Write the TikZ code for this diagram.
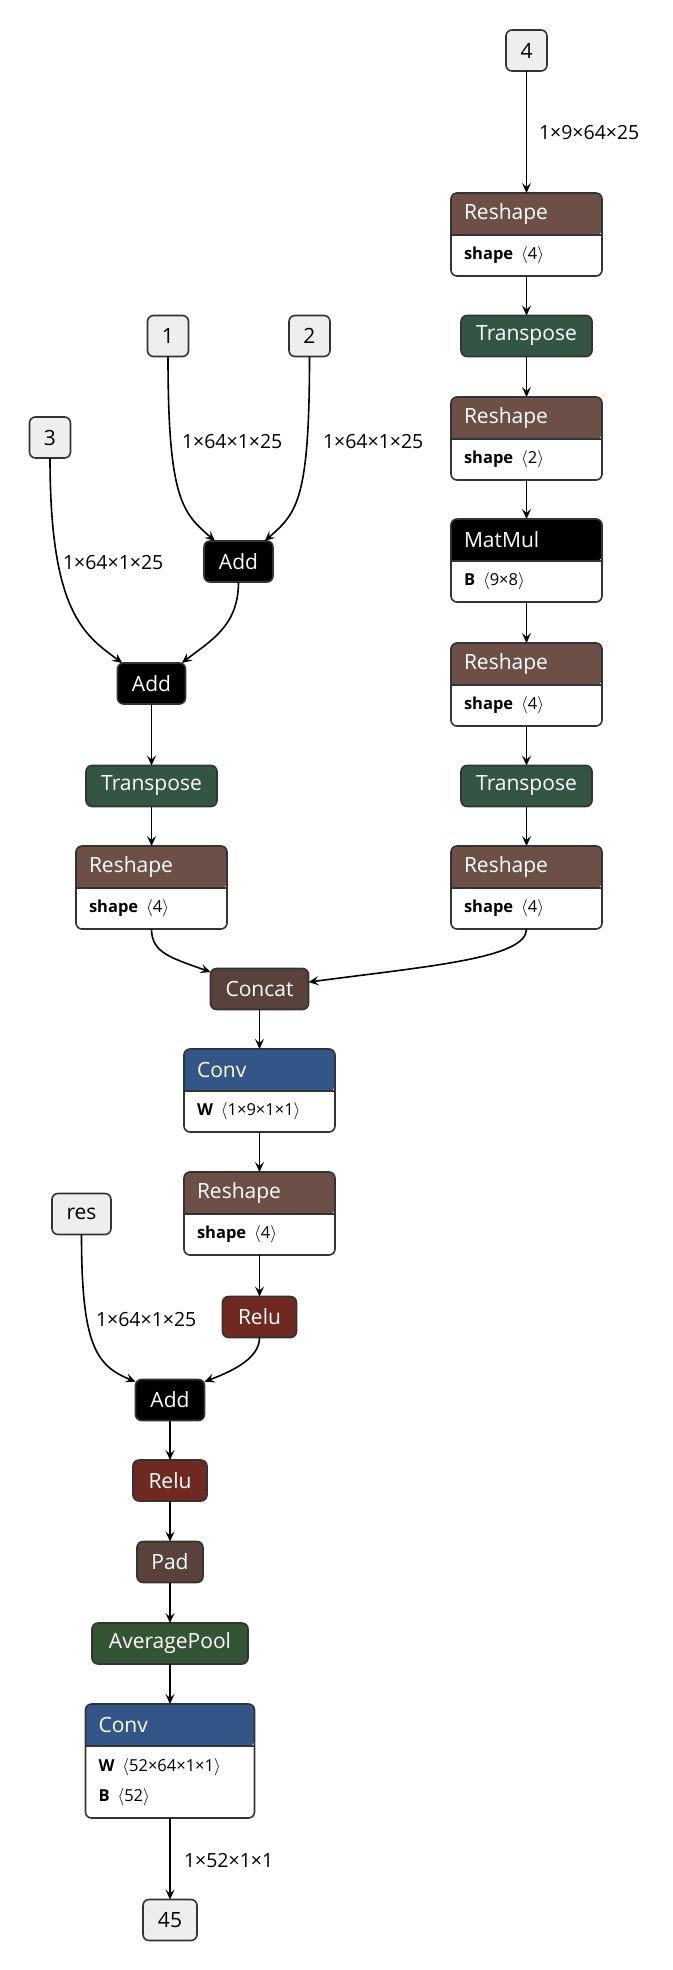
\documentclass[tikz,border=0pt]{standalone}
\usepackage{fontspec}
\setmainfont{Open Sans}
\usepackage{tikz}
\usetikzlibrary{arrows.meta,%
                positioning,backgrounds}

\definecolor{inputC}{RGB}{238,238,238}
\definecolor{rimC}{RGB}{51,51,51}
\definecolor{shapeC}{RGB}{108,79,71}
\definecolor{transformC}{RGB}{51,85,68}
\definecolor{tensorC}{RGB}{89,66,59}
\definecolor{layerC}{RGB}{51,85,136}
\definecolor{activationC}{RGB}{112,41,33}
\definecolor{poolC}{RGB}{51,85,51}

\newcommand{\attrv}[1]{\hspace{8pt}$\langle$#1$\rangle$}
\newcommand{\opframe}[3]{%
  \begin{pgfonlayer}{background}
    \fill[#3] (#1.south west) [rounded corners=6pt] -- (#1.north west) -- (#1.north east) -- (#1.south east) [sharp corners] -- cycle;
  \end{pgfonlayer}
  \draw[rim] (#1.south west) -- (#1.south east);
  \draw[rim, rounded corners=6pt] (#1.north west) rectangle (#2.south east);
}

\tikzset{
  every node/.style={outer sep=0pt},
  rim/.style={draw=rimC, line width=1.6pt},
  box/.style={rim, rounded corners=6pt, minimum height=41pt, inner xsep=4pt, font=\fontsize{21}{25}\selectfont},
  term/.style={box, fill=inputC, text=black, minimum width=#1},
  term/.default=41pt,
  op/.style={box, fill=#1, text=white},
  hdr/.style={anchor=north, minimum height=42pt, text width=#1, inner xsep=13pt, inner ysep=0pt, align=left, text=white, font=\fontsize{21}{25}\selectfont},
  attrbox/.style={minimum height=41pt, text width=#1, inner xsep=13pt, inner ysep=0pt, align=left, font=\fontsize{16.5}{30}\selectfont},
  link/.style={line width=1.6pt, -{Stealth[length=10pt, width=9pt, inset=4pt]}},
  lbl/.style={anchor=west, inner sep=0pt, font=\fontsize{19.5}{23}\selectfont},
}

\begin{document}
\begin{tikzpicture}[x=1pt,y=1pt]
\useasboundingbox (0,0) rectangle (672,-1970);
\node[term] (in4) at (526.5,-50.5) {4};
\node[hdr=125pt] (rs1) at (526.5,-193) {Reshape};
\node[attrbox=125pt, below=0pt of rs1] (rs1a) {\textbf{shape}\attrv{4}};
\opframe{rs1}{rs1a}{shapeC}
\node[op=transformC, minimum width=131pt] (tp1) at (526.5,-336) {Transpose};
\node[hdr=125pt] (rs2) at (526.5,-397) {Reshape};
\node[attrbox=125pt, below=0pt of rs2] (rs2a) {\textbf{shape}\attrv{2}};
\opframe{rs2}{rs2a}{shapeC}
\node[hdr=125pt] (mm) at (526.5,-519) {MatMul};
\node[attrbox=125pt, below=0pt of mm] (mma) {\textbf{B}\attrv{9×8}};
\opframe{mm}{mma}{black}
\node[hdr=125pt] (rs3) at (526.5,-643) {Reshape};
\node[attrbox=125pt, below=0pt of rs3] (rs3a) {\textbf{shape}\attrv{4}};
\opframe{rs3}{rs3a}{shapeC}
\node[op=transformC, minimum width=131pt] (tp2) at (526.5,-786) {Transpose};
\node[hdr=125pt] (rs4) at (526.5,-846) {Reshape};
\node[attrbox=125pt, below=0pt of rs4] (rs4a) {\textbf{shape}\attrv{4}};
\opframe{rs4}{rs4a}{shapeC}

\node[term] (in1) at (168,-336) {1};
\node[term] (in2) at (309.5,-336) {2};
\node[term] (in3) at (50,-437.5) {3};
\node[op=black, minimum width=69pt] (add1) at (238.5,-561.5) {Add};
\node[op=black, minimum width=68pt] (add2) at (151.5,-683.5) {Add};
\node[op=transformC, minimum width=131pt] (tp3) at (151.5,-786) {Transpose};
\node[hdr=125pt] (rs5) at (151.5,-846) {Reshape};
\node[attrbox=125pt, below=0pt of rs5] (rs5a) {\textbf{shape}\attrv{4}};
\opframe{rs5}{rs5a}{shapeC}

\node[op=tensorC, minimum width=98pt] (concat) at (259.5,-989) {Concat};
\node[hdr=125pt] (conv1) at (259.5,-1049) {Conv};
\node[attrbox=125pt, below=0pt of conv1] (conv1a) {\textbf{W}\attrv{1×9×1×1}};
\opframe{conv1}{conv1a}{layerC}
\node[hdr=125pt] (rs6) at (259.5,-1172) {Reshape};
\node[attrbox=125pt, below=0pt of rs6] (rs6a) {\textbf{shape}\attrv{4}};
\opframe{rs6}{rs6a}{shapeC}
\node[op=activationC, minimum width=74pt] (relu1) at (259.5,-1317) {Relu};
\node[term=59pt] (res) at (81.5,-1214) {res};

\node[op=black, minimum width=69pt] (add3) at (170,-1400) {Add};
\node[op=activationC, minimum width=74pt] (relu2) at (170,-1480.5) {Relu};
\node[op=tensorC, minimum width=66pt] (pad) at (170,-1562) {Pad};
\node[op=poolC, minimum width=156pt] (avg) at (170,-1643.5) {AveragePool};
\node[hdr=143pt] (conv2) at (170,-1704) {Conv};
\node[attrbox=143pt, minimum height=72pt, below=0pt of conv2] (conv2a) {\textbf{W}\attrv{52×64×1×1}\\\textbf{B}\attrv{52}};
\opframe{conv2}{conv2a}{layerC}
\node[term=54pt] (out45) at (170,-1920) {45};

\node[lbl] (d4) at (539,-133) {1×9×64×25};
\node[lbl] (d1) at (182,-442) {1×64×1×25};
\node[lbl] (d2) at (323,-442) {1×64×1×25};
\node[lbl] (d3) at (63,-563) {1×64×1×25};
\node[lbl] (dres) at (96,-1320) {1×64×1×25};
\node[lbl] (d45) at (184,-1861) {1×52×1×1};

\draw[link] (in4) -- (rs1);
\draw[link] (rs1a) -- (tp1);
\draw[link] (tp1) -- (rs2);
\draw[link] (rs2a) -- (mm);
\draw[link] (mma) -- (rs3);
\draw[link] (rs3a) -- (tp2);
\draw[link] (tp2) -- (rs4);
\draw[link] (in1) .. controls +(0,-165) and +(-32,28) .. (add1.139);
\draw[link] (in2) .. controls +(0,-165) and +(32,28) .. (add1.38);
\draw[link] (add1) .. controls +(0,-65) and +(28,22) .. (add2.34);
\draw[link] (in3) .. controls +(0,-175) and +(-38,28) .. (add2.145);
\draw[link] (add2) -- (tp3);
\draw[link] (tp3) -- (rs5);
\draw[link] (rs5a) .. controls +(0,-45) and +(-38,14) .. (concat.161);
\draw[link] (rs4a) .. controls +(0,-50) and +(120,16) .. (concat.8);
\draw[link] (concat) -- (conv1);
\draw[link] (conv1a) -- (rs6);
\draw[link] (rs6a) -- (relu1);
\draw[link] (res) .. controls +(0,-130) and +(-40,16) .. (add3.152);
\draw[link] (relu1) .. controls +(0,-40) and +(32,12) .. (add3.28);
\draw[link] (add3) -- (relu2);
\draw[link] (relu2) -- (pad);
\draw[link] (pad) -- (avg);
\draw[link] (avg) -- (conv2);
\draw[link] (conv2a) -- (out45);
\end{tikzpicture}
\end{document}
